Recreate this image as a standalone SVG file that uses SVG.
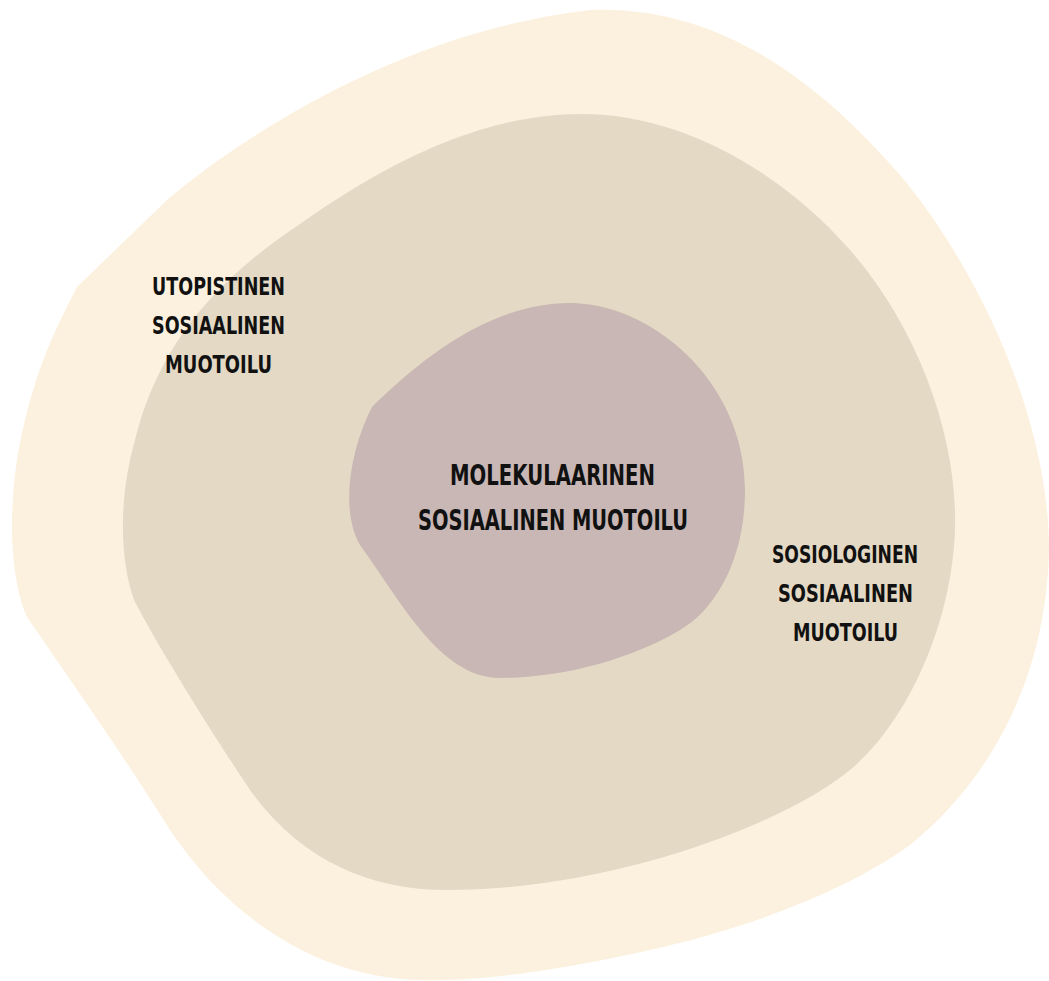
<svg xmlns="http://www.w3.org/2000/svg" width="1049" height="981" viewBox="0 0 1049 981">
  <style>
    .lbl { font-family: "DejaVu Sans Condensed", "DejaVu Sans", "Liberation Sans", sans-serif; font-weight: bold; fill: #111111; text-anchor: middle; }
    .side { font-size: 24px; }
    .core { font-size: 29px; }
    .outer { fill: #FCF1DF; }
    .middle { fill: #E4D9C4; }
    .inner { fill: #C8B7B4; }
  </style>
  <rect x="0" y="0" width="1049" height="981" fill="#FFFFFF"/>
  <g id="utopistinen">
    <path class="outer" d="M 77 287 L 167 200 C 250 130, 410 30, 591 10 C 730 5, 830 95, 900 175 C 960 245, 1049 400, 1049 550 C 1046 680, 990 780, 910 845 C 840 895, 740 930, 650 950 C 560 970, 480 982, 420 980 C 320 978, 230 920, 170 830 C 120 750, 70 680, 27 617 C 10 580, 5 500, 25 420 C 40 360, 55 330, 77 287 Z"/>
    <g id="sosiologinen">
      <path class="middle" d="M 134 600 C 120 560, 118 500, 135 440 C 155 360, 200 290, 300 224 C 370 175, 470 114, 582 114 C 680 114, 780 170, 850 250 C 920 330, 958 440, 955 530 C 952 620, 910 720, 850 770 C 790 820, 620 890, 446 890 C 370 890, 300 860, 250 790 C 210 730, 160 650, 134 600 Z"/>
      <g id="molekulaarinen">
        <path class="inner" d="M 372 407 C 420 360, 490 303, 570 303 C 650 303, 745 380, 745 490 C 745 560, 715 610, 680 630 C 630 660, 560 678, 500 678 C 440 678, 400 600, 360 545 C 340 510, 350 450, 372 407 Z"/>
        <text class="lbl core" x="552.5" y="485" textLength="205" lengthAdjust="spacingAndGlyphs">MOLEKULAARINEN</text>
        <text class="lbl core" x="553" y="530" textLength="270" lengthAdjust="spacingAndGlyphs">SOSIAALINEN MUOTOILU</text>
      </g>
      <text class="lbl side" x="845" y="563" textLength="146" lengthAdjust="spacingAndGlyphs">SOSIOLOGINEN</text>
      <text class="lbl side" x="845.5" y="602" textLength="135" lengthAdjust="spacingAndGlyphs">SOSIAALINEN</text>
      <text class="lbl side" x="845.5" y="641" textLength="105" lengthAdjust="spacingAndGlyphs">MUOTOILU</text>
    </g>
    <text class="lbl side" x="218.5" y="295" textLength="133" lengthAdjust="spacingAndGlyphs">UTOPISTINEN</text>
    <text class="lbl side" x="218.5" y="334" textLength="133" lengthAdjust="spacingAndGlyphs">SOSIAALINEN</text>
    <text class="lbl side" x="218.5" y="373" textLength="107" lengthAdjust="spacingAndGlyphs">MUOTOILU</text>
  </g>
  <g id="connectors"/>
</svg>
